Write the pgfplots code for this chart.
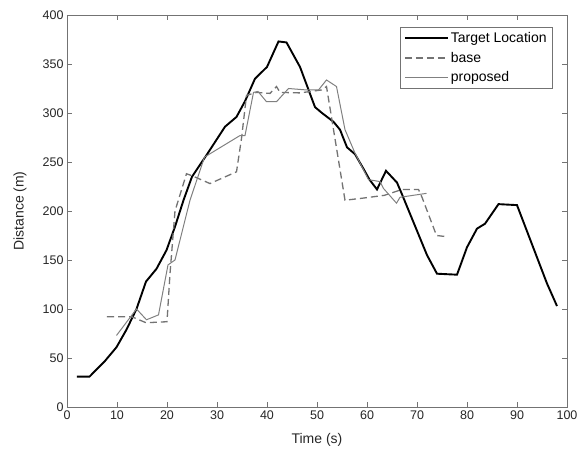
\documentclass[border=0pt]{standalone}
\usepackage{pgfplots}
\pgfplotsset{compat=1.18}
\usepackage{fontspec}
\setmainfont{Liberation Sans}

\definecolor{axgray}{gray}{0.45}
\definecolor{basegray}{gray}{0.45}
\definecolor{propgray}{gray}{0.5}

\begin{document}
\begin{tikzpicture}
  \begin{axis}[
      at={(0,0)}, anchor=south west,
      scale only axis,
      width=500pt, height=392pt,
      xmin=0, xmax=100, ymin=0, ymax=400,
      xtick={0,10,...,100},
      ytick={0,50,...,400},
      tick align=inside,
      major tick length=5pt,
      axis line style={axgray, line width=0.8pt},
      every tick/.style={axgray, line width=0.8pt},
      tick label style={font=\fontsize{12.5}{14}\selectfont, text=black!85},
      /pgf/number format/assume math mode=true,
      xlabel={Time (s)},
      ylabel={Distance (m)},
      label style={font=\fontsize{14}{16}\selectfont, text=black!85},
      xlabel style={at={(axis description cs:0.5,-0.084)}, anchor=center},
      ylabel style={at={(axis description cs:-0.094,0.5)}, anchor=center},
      legend style={
        at={(rel axis cs:0.972,0.969)}, anchor=north east,
        draw=axgray, line width=0.8pt,
        font=\fontsize{14}{16}\selectfont,
        row sep=4pt, inner xsep=4pt, inner ysep=3pt,
        cells={anchor=west},
      },
      legend image code/.code={\draw[#1] (0pt,0pt) -- (43pt,0pt);},
    ]

    % Target Location
    \addplot[black, line width=1.9pt] coordinates {
      (2,31) (4.5,31) (7.6,47) (9.9,61) (11.9,79) (13.9,100) (15.8,128)
      (17.9,141) (19.9,160) (21.6,184) (23.3,211) (25,235) (27.9,257)
      (31.6,286) (33.9,296) (35.6,312) (37.6,335) (40,347) (42.3,373)
      (43.9,372) (46.6,347) (49.6,306) (51,300) (53.3,291) (54.6,283)
      (56,265) (57.6,258) (59.3,243) (60.5,232) (62,222) (63.8,241)
      (66,229) (67,217) (72,155) (74,136) (78,135) (80,163) (82,182)
      (83.6,187) (86.3,207) (90,206) (96,126) (98,103)
    };
    \addlegendentry{Target Location}

    % base
    \addplot[basegray, line width=1.3pt, dash pattern=on 7pt off 4pt] coordinates {
      (8,92) (13,92) (15.8,86) (20,87) (20.6,136) (21.6,200) (23.9,238)
      (25,236) (28.6,228) (33.9,240) (34.9,274) (35.9,318) (37.9,321)
      (40.6,320) (41.9,327) (42.6,321) (46.6,320.5) (50.9,323.5)
      (51.9,327) (55.6,211) (59,213) (63.5,216) (67,222) (70.3,222)
      (71,214) (73.9,175) (75.6,174)
    };
    \addlegendentry{base}

    % proposed
    \addplot[propgray, line width=1pt] coordinates {
      (9.9,73) (13.9,100) (15.9,89) (18.3,94) (20.2,145) (21.6,150)
      (24.6,211) (27.5,255) (34.6,277) (35.6,277) (37.3,321) (38.2,322)
      (39.9,311.5) (41.9,311.5) (44.3,325) (47.9,323.5) (50.3,323.5)
      (51.9,333.7) (53.9,327) (55.6,283) (57.6,259) (60.3,232)
      (62.6,230) (63.3,223) (65.9,208) (66.6,214) (71.9,218)
    };
    \addlegendentry{proposed}
  \end{axis}
  \path (-67pt,-55pt) rectangle (519pt,407pt);
\end{tikzpicture}
\end{document}
